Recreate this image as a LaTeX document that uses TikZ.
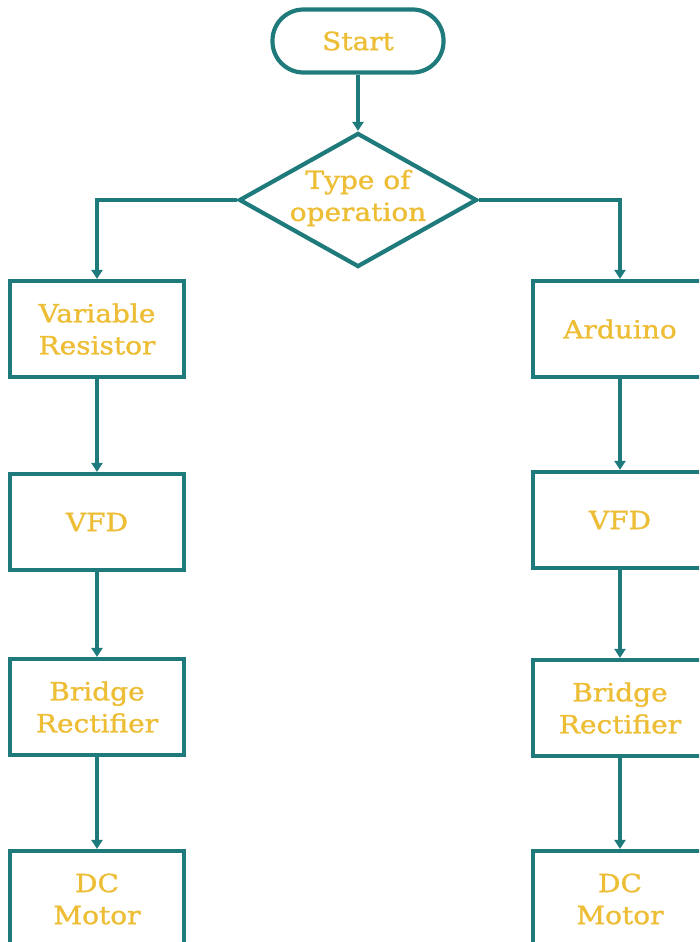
\documentclass[tikz,border=0pt]{standalone}
\usepackage{fontspec}
\setmainfont{DejaVu Serif}[FakeStretch=1.12,FakeBold=1.2]
\usetikzlibrary{shapes.geometric,arrows.meta}
\definecolor{teal1}{HTML}{1F7B7B}
\definecolor{gold1}{HTML}{EDBE35}
\tikzset{
  base/.style={draw=teal1, line width=4.2pt, fill=white, text=gold1,
    font=\fontsize{25}{32}\selectfont, align=center, inner sep=0pt},
  procbox/.style={base, rectangle, minimum width=174pt, minimum height=96pt},
  startbox/.style={base, rectangle, rounded corners=31pt, minimum width=171pt, minimum height=63pt},
  decision/.style={base, diamond, minimum width=238pt, minimum height=134pt},
  txt/.style={text=gold1, font=\fontsize{25}{32}\selectfont, align=center, inner sep=0pt},
  flow/.style={draw=teal1, line width=4pt, -{Triangle[length=9pt,width=11pt]}}
}
\begin{document}
\begin{tikzpicture}[x=1pt,y=-1pt]
\path[use as bounding box, clip] (0,0) rectangle (699,942);
\node[startbox] (start) at (358,41) {Start};
\node[decision] (dec) at (358,200) {};
\node[txt] (dect) at (358,198) {Type of\\operation};
\node[procbox] (l1) at (97,329) {Variable\\Resistor};
\node[procbox] (l2) at (97,522) {VFD};
\node[procbox] (l3) at (97,707) {Bridge\\Rectifier};
\node[procbox] (l4) at (97,899) {DC\\Motor};
\node[procbox] (r1) at (620,329) {Arduino};
\node[procbox] (r2) at (620,520) {VFD};
\node[procbox] (r3) at (620,708) {Bridge\\Rectifier};
\node[procbox] (r4) at (620,899) {DC\\Motor};
\draw[flow] (start.south) -- (dec.north);
\draw[flow] (dec.west) -| (l1.north);
\draw[flow] (dec.east) -| (r1.north);
\draw[flow] (l1.south) -- (l2.north);
\draw[flow] (l2.south) -- (l3.north);
\draw[flow] (l3.south) -- (l4.north);
\draw[flow] (r1.south) -- (r2.north);
\draw[flow] (r2.south) -- (r3.north);
\draw[flow] (r3.south) -- (r4.north);
\end{tikzpicture}
\end{document}
